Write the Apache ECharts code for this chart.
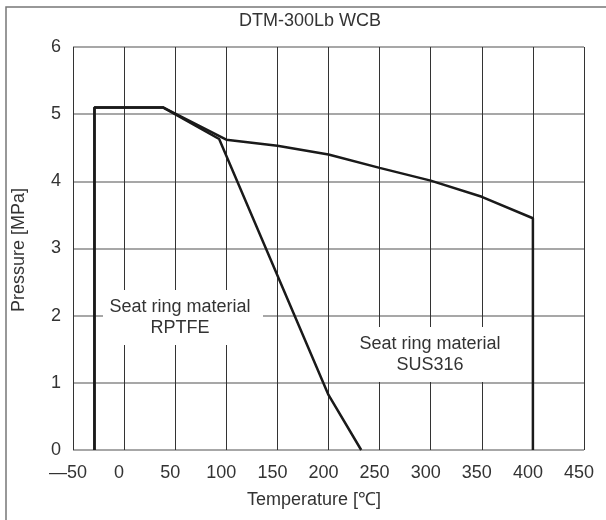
<!DOCTYPE html>
<html>
<head>
<meta charset="utf-8">
<script src="https://cdn.jsdelivr.net/npm/echarts@6/dist/echarts.min.js"></script>
<style>
  html, body { margin: 0; padding: 0; background: #fff; }
  #main { width: 606px; height: 520px; }
</style>
</head>
<body>
<div id="main"></div>
<script>
// temperature [°C] / pressure [MPa]
var rptfeTemp = [-29, -29, 38, 93, 200, 232]
var rptfePress = [0, 5.1, 5.1, 4.63, 0.82, 0]
var susTemp = [-29, -29, 38, 100, 150, 200, 250, 300, 350, 400, 400]
var susPress = [0, 5.1, 5.1, 4.62, 4.53, 4.4, 4.2, 4.01, 3.77, 3.45, 0]
var xTicks = [-50, 0, 50, 100, 150, 200, 250, 300, 350, 400, 450]
var yTicks = [0, 1, 2, 3, 4, 5, 6]

var font = '"Liberation Sans", Arial, sans-serif'
var textColor = '#333'

function pairs (xs, ys) {
  return xs.map(function (x, i) { return [x, ys[i]] })
}

var chart = echarts.init(document.getElementById('main'))

var option = {
  animation: false,
  backgroundColor: '#fff',
  grid: {
    left: 73,
    right: 22,
    top: 47,
    bottom: 70,
    containLabel: false,
    outerBoundsMode: 'none'
  },
  xAxis: {
    type: 'value',
    min: xTicks[0],
    max: xTicks[xTicks.length - 1],
    interval: 50,
    axisLine: { show: false },
    axisTick: { show: false },
    axisLabel: {
      margin: 14,
      fontSize: 18,
      fontFamily: font,
      color: textColor,
      padding: [0, 10, 0, 0],
      formatter: function (v) {
        return v < 0 ? '\u2014' + Math.abs(v) : String(v)
      }
    },
    splitLine: { show: true, lineStyle: { color: '#333', width: 1 } }
  },
  yAxis: {
    type: 'value',
    min: yTicks[0],
    max: yTicks[yTicks.length - 1],
    interval: 1,
    axisLine: { show: false },
    axisTick: { show: false },
    axisLabel: {
      margin: 12,
      fontSize: 18,
      fontFamily: font,
      color: textColor
    },
    splitLine: { show: true, lineStyle: { color: '#8a8a8a', width: 1.5 } }
  },
  graphic: [
    // outer frame (only top/left edges fall inside the picture)
    { type: 'rect', shape: { x: 6, y: 7, width: 640, height: 560 }, style: { fill: 'none', stroke: '#777', lineWidth: 1.5 }, z: 0 },
    { type: 'text', x: 310, y: 21, style: { text: 'DTM-300Lb WCB', fontSize: 18, fontFamily: font, fill: textColor, textAlign: 'center', textVerticalAlign: 'middle' }, z: 5 },
    { type: 'text', x: 19, y: 250, rotation: Math.PI / 2, style: { text: 'Pressure [MPa]', fontSize: 18, fontFamily: font, fill: textColor, textAlign: 'center', textVerticalAlign: 'middle' }, z: 5 },
    { type: 'text', x: 314, y: 500, style: { text: 'Temperature [\u2103]', fontSize: 18, fontFamily: font, fill: textColor, textAlign: 'center', textVerticalAlign: 'middle' }, z: 5 },
    // label boxes masking the grid
    { type: 'rect', shape: { x: 103, y: 290, width: 160, height: 55 }, style: { fill: '#fff' }, z: 1 },
    { type: 'text', x: 180, y: 318, style: { text: 'Seat ring material\nRPTFE', fontSize: 18, lineHeight: 21, fontFamily: font, fill: textColor, textAlign: 'center', textVerticalAlign: 'middle' }, z: 5 },
    { type: 'rect', shape: { x: 350, y: 327, width: 160, height: 55 }, style: { fill: '#fff' }, z: 1 },
    { type: 'text', x: 430, y: 355, style: { text: 'Seat ring material\nSUS316', fontSize: 18, lineHeight: 21, fontFamily: font, fill: textColor, textAlign: 'center', textVerticalAlign: 'middle' }, z: 5 }
  ],
  series: [
    {
      name: 'RPTFE',
      type: 'line',
      data: pairs(rptfeTemp, rptfePress),
      showSymbol: false,
      z: 4,
      lineStyle: { color: '#1a1a1a', width: 2.5 }
    },
    {
      name: 'SUS316',
      type: 'line',
      data: pairs(susTemp, susPress),
      showSymbol: false,
      z: 4,
      lineStyle: { color: '#1a1a1a', width: 2.5 }
    }
  ]
}

chart.setOption(option)
</script>
</body>
</html>
